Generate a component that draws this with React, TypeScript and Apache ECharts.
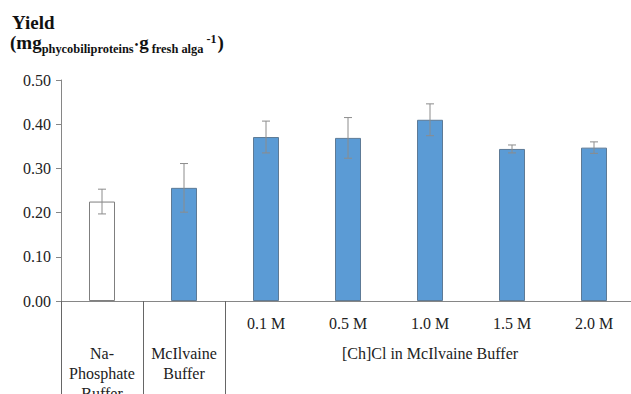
import React, { useEffect, useRef } from "react";
import * as echarts from "echarts";

const categories = ["Na-Phosphate Buffer", "McIlvaine Buffer", "0.1 M", "0.5 M", "1.0 M", "1.5 M", "2.0 M"];
const groupLabel = "[Ch]Cl in McIlvaine Buffer";
const yieldValues = [0.225, 0.256, 0.371, 0.369, 0.41, 0.344, 0.347];
const yieldErrors = [0.028, 0.055, 0.036, 0.046, 0.036, 0.009, 0.013];
const yTicks = { min: 0, max: 0.5, interval: 0.1 };

const FONT = "'Liberation Serif', 'Times New Roman', serif";

export default function App() {
  const ref = useRef<HTMLDivElement>(null);
  useEffect(() => {
    if (!ref.current) return;
    const chart = echarts.init(ref.current, undefined, { renderer: "svg" });
    const barData = yieldValues.map((v, i) =>
      i === 0
        ? { value: v, itemStyle: { color: "#ffffff", borderColor: "#7f7f7f", borderWidth: 1 } }
        : { value: v }
    );
    const errData = yieldValues.map((v, i) => [i, v - yieldErrors[i], v + yieldErrors[i]]);
    chart.setOption({
      animation: false,
      backgroundColor: "#ffffff",
      textStyle: { fontFamily: FONT },
      grid: { left: 61, right: -4, top: 80, bottom: 93, containLabel: false, outerBoundsMode: "none" },
      graphic: [
        {
          type: "text",
          left: 12,
          top: 13,
          style: { text: "Yield", font: `bold 19px ${FONT}`, fill: "#111" },
        },
        {
          type: "text",
          left: 10,
          top: 33,
          style: {
            text: "{m|(mg}{s|phycobiliproteins}{d|•}{m|g}{s2|fresh alga}{p|-1}{m|)}",
            fill: "#111",
            rich: {
              m: { fontFamily: FONT, fontWeight: "bold", fontSize: 19, fill: "#111" },
              d: { fontFamily: FONT, fontWeight: "bold", fontSize: 10, padding: [4, 1, 0, 1], fill: "#111" },
              s: { fontFamily: FONT, fontWeight: "bold", fontSize: 12.4, padding: [12, 0, 0, 0], fill: "#111" },
              s2: { fontFamily: FONT, fontWeight: "bold", fontSize: 12.4, padding: [12, 0, 0, 3], fill: "#111" },
              p: { fontFamily: FONT, fontWeight: "bold", fontSize: 12, padding: [0, 1, 7, 3], fill: "#111" },
            },
          },
        },
      ],
      xAxis: {
        type: "category",
        data: categories,
        boundaryGap: true,
        axisLine: { show: true, lineStyle: { color: "#868686", width: 1 } },
        axisTick: {
          show: true,
          length: 100,
          inside: false,
          interval: (index: number) => index <= 2,
          lineStyle: { color: "#666666", width: 1 },
        },
        axisLabel: {
          interval: 0,
          margin: 7,
          hideOverlap: false,
          color: "#222",
          formatter: (value: string, index: number) => {
            if (index === 0) return "{sp| }\n{g|Na-}\n{g|Phosphate}\n{g|Buffer}";
            if (index === 1) return "{sp| }\n{g|McIlvaine}\n{g|Buffer}";
            if (index === 4) return `{c|${value}}\n{c|${groupLabel}}`;
            return `{c|${value}}`;
          },
          rich: {
            sp: { lineHeight: 35, fontSize: 16, fontFamily: FONT },
            g: { lineHeight: 20, fontSize: 16, fontFamily: FONT, color: "#222" },
            c: { lineHeight: 30, fontSize: 16, fontFamily: FONT, color: "#222" },
          },
        },
        splitLine: { show: false },
      },
      yAxis: {
        type: "value",
        min: yTicks.min,
        max: yTicks.max,
        interval: yTicks.interval,
        axisLine: { show: true, lineStyle: { color: "#868686", width: 1 } },
        axisTick: { show: true, length: 5, inside: false, lineStyle: { color: "#868686" } },
        axisLabel: {
          margin: 10,
          fontSize: 16,
          fontFamily: FONT,
          color: "#222",
          formatter: (v: number) => v.toFixed(2),
        },
        splitLine: { show: false },
      },
      series: [
        {
          type: "bar",
          data: barData,
          barWidth: 26,
          itemStyle: { color: "#5b9bd5", borderColor: "#5d7a96", borderWidth: 1 },
        },
        {
          type: "custom",
          data: errData,
          encode: { x: 0, y: [1, 2] },
          z: 10,
          renderItem: (params: any, api: any) => {
            const x = api.value(0);
            const lo = api.coord([x, api.value(1)]);
            const hi = api.coord([x, api.value(2)]);
            const cap = 4;
            const style = { stroke: "#8c8c8c", lineWidth: 1 };
            return {
              type: "group",
              children: [
                { type: "line", shape: { x1: hi[0], y1: hi[1], x2: lo[0], y2: lo[1] }, style },
                { type: "line", shape: { x1: hi[0] - cap, y1: hi[1], x2: hi[0] + cap, y2: hi[1] }, style },
                { type: "line", shape: { x1: lo[0] - cap, y1: lo[1], x2: lo[0] + cap, y2: lo[1] }, style },
              ],
            };
          },
        },
      ],
    });
    return () => chart.dispose();
  }, []);
  return (
    <div
      ref={ref}
      style={{ position: "fixed", left: 0, top: 0, width: 631, height: 394, background: "#fff" }}
    />
  );
}
